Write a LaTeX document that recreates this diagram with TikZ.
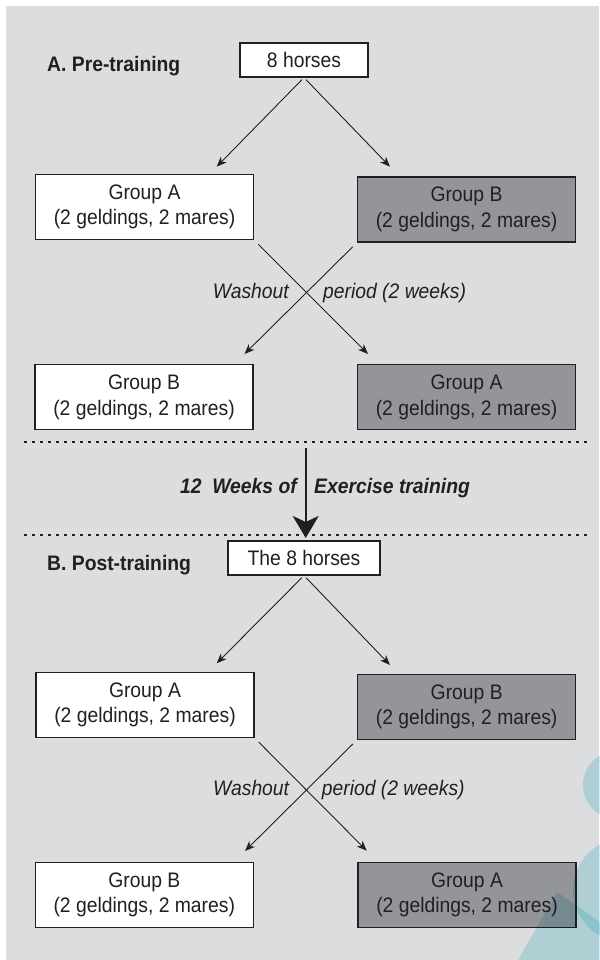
\documentclass[tikz,border=0pt]{standalone}
\usepackage{fontspec}
\setmainfont[FakeStretch=0.92]{Liberation Sans}
\usetikzlibrary{arrows.meta, positioning, calc}
\definecolor{panel}{HTML}{DCDDDF}
\definecolor{darkbox}{HTML}{949598}
\definecolor{ink}{HTML}{231F20}
\definecolor{logoteal}{HTML}{CBEFF4}

\begin{document}
\begin{tikzpicture}[
  x=1pt, y=-1pt,
  font=\fontsize{21}{25.5}\selectfont,
  grp/.style={draw=ink, line width=1.1pt, minimum width=218pt, minimum height=65pt,
              inner sep=0pt, align=center, text=ink,
              execute at begin node={\rule{0pt}{23.7pt}}},
  grpwhite/.style={grp, fill=white},
  grpdark/.style={grp, fill=darkbox},
  herd/.style={draw=ink, line width=1.1pt, fill=white, minimum height=34pt, inner sep=0pt, text=ink},
  phase/.style={font=\fontsize{21}{25.5}\selectfont\bfseries, text=ink, inner sep=0pt, anchor=base west},
  note/.style={font=\fontsize{21}{25.5}\selectfont\itshape, text=ink, inner sep=0pt},
  arr/.style={-{Stealth[length=10pt, width=8pt, inset=3pt]}, line width=0.9pt, draw=ink},
  sep/.style={line width=1.6pt, dash pattern=on 2.7pt off 5.3pt, draw=ink},
  bigarr/.style={-{Stealth[length=22pt, width=26pt, inset=6pt]}, line width=2pt, draw=ink},
]
  \useasboundingbox (0,0) rectangle (599,960);
  \fill[panel] (6,6) rectangle (599,960);

  % A. Pre-training
  \node[herd, minimum width=128pt] (herdpre) at (304,60) {8 horses};
  \node[phase] (prelbl) at (47,72) {A. Pre-training};
  \node[grpwhite] (preA1) at (144.5,207) {Group A\\(2 geldings, 2 mares)};
  \node[grpdark]  (preB1) at (466.5,209.5) {Group B\\(2 geldings, 2 mares)};
  \node[grpwhite] (preB2) at (144,397.3) {Group B\\(2 geldings, 2 mares)};
  \node[grpdark]  (preA2) at (466.5,397.3) {Group A\\(2 geldings, 2 mares)};

  \coordinate (preTL) at (216.7,166.7);
  \coordinate (preTR) at (390,166.7);
  \coordinate (preXR) at (368,354);
  \coordinate (preXL) at (244.5,354);
  \draw[arr, shorten <=3pt] (herdpre.south) -- (preTL);
  \draw[arr, shorten <=3pt] (herdpre.south) -- (preTR);
  \draw[arr, shorten <=6pt] (preA1.south east) -- (preXR);
  \draw[arr, shorten <=6pt] (preB1.south west) -- (preXL);
  \node[note, anchor=base east] (prewash) at (289,298) {Washout};
  \node[note, anchor=base west] (preper) at (323,298) {period (2 weeks)};

  % training
  \coordinate (sepAl) at (24,442);
  \coordinate (sepAr) at (590,442);
  \coordinate (sepBl) at (24,535);
  \coordinate (sepBr) at (590,535);
  \draw[sep] (sepAl) -- (sepAr);
  \draw[sep] (sepBl) -- (sepBr);

  % B. Post-training
  \node[herd, minimum width=152pt] (herdpost) at (304,558) {The 8 horses};
  \node[phase] (postlbl) at (47,570.7) {B. Post-training};
  \node[grpwhite] (postA1) at (145,704.8) {Group A\\(2 geldings, 2 mares)};
  \node[grpdark]  (postB1) at (466.7,706.7) {Group B\\(2 geldings, 2 mares)};
  \node[grpwhite] (postB2) at (144.3,894.8) {Group B\\(2 geldings, 2 mares)};
  \node[grpdark]  (postA2) at (467,894.8) {Group A\\(2 geldings, 2 mares)};

  \coordinate (trainS) at (305.7,448);
  \draw[bigarr, shorten >=2.5pt] (trainS) -- (trainS |- herdpost.north);
  \node[note, font=\fontsize{21}{25.5}\selectfont\bfseries\itshape, anchor=base east]
    (trainL) at (297,493.3) {12~~Weeks of};
  \node[note, font=\fontsize{21}{25.5}\selectfont\bfseries\itshape, anchor=base west]
    (trainR) at (314,493.3) {Exercise training};

  \coordinate (postTL) at (216.7,663.3);
  \coordinate (postTR) at (390,665);
  \coordinate (postXR) at (366.7,850.7);
  \coordinate (postXL) at (245,851);
  \draw[arr, shorten <=3pt] (herdpost.south) -- (postTL);
  \draw[arr, shorten <=3pt] (herdpost.south) -- (postTR);
  \draw[arr, shorten <=6pt] (postA1.south east) -- (postXR);
  \draw[arr, shorten <=6pt] (postB1.south west) -- (postXL);
  \node[note, anchor=base east] (postwash) at (289.3,795) {Washout};
  \node[note, anchor=base west] (postper) at (321.7,795) {period (2 weeks)};

  % logo in the corner
  \begin{scope}[blend mode=multiply]
    \fill[logoteal] (617,785) circle[radius=34];
    \fill[logoteal] (625,890) circle[radius=52];
    \fill[logoteal] (518,960) -- (557,892) -- (600,922) -- (600,960) -- cycle;
  \end{scope}
\end{tikzpicture}
\end{document}
